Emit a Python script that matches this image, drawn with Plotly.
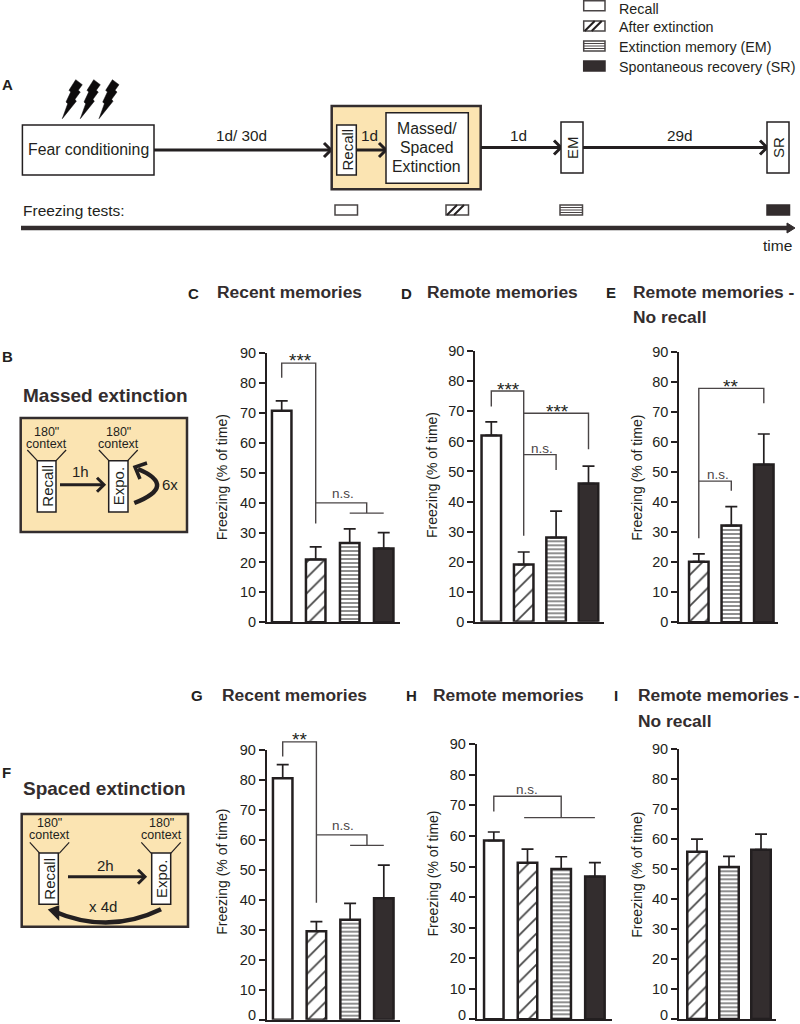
import plotly.graph_objects as go

W = 800
H = 1024
INK = "#231f20"
DARK = "#332d2e"
GREY = "#4a4546"
CREAM = "#fbe4b2"
FONT = "Liberation Sans"

# bar heights and upper error lengths
FULL = ["Recall", "After extinction", "EM", "SR"]
NO_RECALL = ["After extinction", "EM", "SR"]

c_vals = [70.7, 21.0, 26.5, 24.7]
c_errs = [3.3, 4.2, 4.7, 5.3]
d_vals = [62.0, 19.0, 28.0, 46.0]
d_errs = [4.5, 4.2, 8.8, 5.8]
e_vals = [20.2, 32.2, 52.5]
e_errs = [2.6, 6.3, 10.2]
g_vals = [80.5, 29.5, 33.3, 40.5]
g_errs = [4.5, 3.2, 5.5, 11.0]
h_vals = [58.5, 51.2, 49.2, 46.7]
h_errs = [2.8, 4.5, 4.0, 4.6]
i_vals = [55.8, 50.7, 56.5]
i_errs = [4.2, 3.6, 5.2]

y_ticks = [0, 10, 20, 30, 40, 50, 60, 70, 80, 90]

STYLE = {
    "Recall": ("white", ""),
    "After extinction": ("white", "/"),
    "EM": ("white", "-"),
    "SR": (DARK, ""),
}

fig = go.Figure()
shapes = []
notes = []


def px(x, y):
    return x / W, 1 - y / H


def line(x0, y0, x1, y1, color=INK, width=1.5):
    a, b = px(x0, y0)
    c, d = px(x1, y1)
    shapes.append(dict(type="line", xref="paper", yref="paper", x0=a, y0=b, x1=c, y1=d,
                       line=dict(color=color, width=width)))


def rect(x0, y0, x1, y1, fill="white", color=INK, width=1.5):
    a, b = px(x0, y0)
    c, d = px(x1, y1)
    shapes.append(dict(type="rect", xref="paper", yref="paper", x0=a, y0=b, x1=c, y1=d,
                       fillcolor=fill, line=dict(color=color, width=width)))


def poly(points, fill=None, color=INK, width=1.5, closed=False):
    path = ""
    for n, (x, y) in enumerate(points):
        a, b = px(x, y)
        path += f"{'M' if n == 0 else 'L'}{a:.5f},{b:.5f} "
    if closed:
        path += "Z"
    shapes.append(dict(type="path", xref="paper", yref="paper", path=path,
                       fillcolor=fill, line=dict(color=color, width=width)))


def curve(p0, ctrl, p1, width=4):
    a, b = px(*p0)
    c, d = px(*ctrl)
    e, f = px(*p1)
    shapes.append(dict(type="path", xref="paper", yref="paper",
                       path=f"M{a:.5f},{b:.5f} Q{c:.5f},{d:.5f} {e:.5f},{f:.5f}",
                       line=dict(color=INK, width=width)))


def text(x, y, s, size=14, bold=False, angle=0, anchor="center", color=INK):
    a, b = px(x, y)
    notes.append(dict(xref="paper", yref="paper", x=a, y=b, text=f"<b>{s}</b>" if bold else s,
                      showarrow=False, textangle=angle, xanchor=anchor, yanchor="middle",
                      font=dict(family=FONT, size=size, color=color), borderpad=0))


def arrow(x0, x1, y, width=3, head=7, color=INK):
    line(x0, y, x1 - 1, y, color=color, width=width)
    poly([(x1 - head, y - head), (x1, y), (x1 - head, y + head)], color=color, width=width)


def swatch(x0, y0, x1, y1, kind):
    if kind == "SR":
        rect(x0, y0, x1, y1, fill=DARK, color=DARK)
        return
    rect(x0, y0, x1, y1, color=GREY)
    h = y1 - y0
    if kind == "After extinction":
        x = x0 + 1
        while x + h < x1:
            line(x, y1, x + h, y0, color=INK, width=2)
            x += 7
    if kind == "EM":
        y = y0 + 2.5
        while y < y1 - 1:
            line(x0, y, x1, y, color=GREY, width=1)
            y += 2.5


def panel(n, cats, vals, errs, left, right, bottom, top, first, pitch):
    # n picks the axis pair; left/right/bottom/top are the axis ends in pixels
    name = "" if n == 1 else str(n)
    colors = [STYLE[c][0] for c in cats]
    marks = [STYLE[c][1] for c in cats]
    fig.add_trace(go.Bar(
        x=cats, y=vals, width=19.5 / pitch, xaxis=f"x{name}", yaxis=f"y{name}", showlegend=False,
        marker=dict(color=colors, line=dict(color=INK, width=2.5),
                    pattern=dict(shape=marks, fillmode="overlay", fgcolor="#000000", fgopacity=1,
                                 size=[{"": 8, "/": 11, "-": 4}[m] for m in marks],
                                 solidity=[{"": 0.3, "/": 0.16, "-": 0.3}[m] for m in marks])),
        error_y=dict(type="data", symmetric=False, array=errs, arrayminus=[0] * len(errs),
                     color=INK, thickness=1.7, width=6),
    ))
    fig.update_layout({
        f"xaxis{name}": dict(domain=[left / W, right / W], type="category",
                             range=[(left - first) / pitch, (right - first) / pitch],
                             showticklabels=False, ticks="", showline=True, linecolor=INK, linewidth=2,
                             showgrid=False, zeroline=False, anchor=f"y{name}"),
        f"yaxis{name}": dict(domain=[1 - bottom / H, 1 - top / H], range=[0, 90], tickvals=y_ticks,
                             ticks="outside", ticklen=6, tickwidth=2, tickcolor=INK,
                             showline=True, linecolor=INK, linewidth=2, showgrid=False, zeroline=False,
                             tickfont=dict(family=FONT, size=14.5, color=INK), anchor=f"x{name}"),
    })

    def bx(i):
        return first + i * pitch

    def by(v):
        return bottom - v * (bottom - top) / 90

    return bx, by


def bracket(bx, by, a, ya, b, yb, top):
    poly([(bx(a), by(ya)), (bx(a), by(top)), (bx(b), by(top)), (bx(b), by(yb))], color=GREY, width=1.4)


# panel A: timeline
rect(22.4, 125, 154, 175)
text(88, 149, "Fear conditioning", 15.8)
for shift in [0, 18, 36.7]:
    bolt = [(75.7, 79.7), (82.3, 84.7), (78.3, 90.3), (80.3, 92), (75, 99.3), (76.3, 101.3), (62.3, 118.7),
            (67.7, 103.7), (66, 102), (70.7, 92), (69, 90.3)]
    poly([(x + shift, y) for x, y in bolt], fill="#0d0b0c", color="#0d0b0c", width=0.5, closed=True)

arrow(154, 331, 150)
text(241, 135, "1d/ 30d", 15.3)
rect(331.7, 106, 480.7, 189.3, fill=CREAM, color=DARK, width=2.5)
rect(336.7, 125, 356.3, 175)
text(346.5, 150, "Recall", 15, angle=-90)
arrow(356.3, 386, 150)
text(369, 135, "1d", 15.3)
rect(386, 112.7, 468.3, 183.3)
text(427, 128.3, "Massed/", 15.8)
text(427, 147.5, "Spaced", 15.8)
text(427, 166.7, "Extinction", 15.8)
arrow(481, 561, 147.5)
text(518, 135, "1d", 15.3)
rect(561, 122, 583, 173)
text(572, 148, "EM", 15, angle=-90)
arrow(583, 767, 147.5)
text(680, 135, "29d", 15.3)
rect(767, 122, 789, 173)
text(778, 148, "SR", 15, angle=-90)

text(22, 210, "Freezing tests:", 15.5, anchor="left")
for x0, kind in zip([335, 446, 560, 767], FULL):
    swatch(x0, 205, x0 + 22.5, 215, kind)
line(21, 228, 788, 228, color=DARK, width=4.5)
poly([(787, 223), (795, 228), (787, 233)], fill=DARK, color=DARK, width=1, closed=True)
text(793, 245, "time", 15.5, anchor="right")

# legend
legend_labels = ["Recall", "After extinction", "Extinction memory (EM)", "Spontaneous recovery (SR)"]
for y, kind, label in zip([0.7, 21, 41, 61], FULL, legend_labels):
    swatch(583.7, y, 605, y + 10, kind)
    text(618, max(y + 5.5, 9), label, 14.3, anchor="left")

# schemes B and F
text(22, 395, "Massed extinction", 19, bold=True, anchor="left", color=DARK)
rect(20.7, 418, 187, 532, fill=CREAM, color=DARK, width=2.5)
for cx in [46.7, 118.3]:
    text(cx, 431.5, "180\"", 12.5)
    text(cx, 443.5, "context", 12.5)
    line(cx - 19.4, 450, cx - 9.4, 460.7, width=1.2)
    line(cx + 19.4, 450, cx + 9.4, 460.7, width=1.2)
rect(37.3, 460.7, 56, 512)
text(46.7, 486, "Recall", 15, angle=-90)
rect(108.7, 460.7, 128, 512)
text(118.3, 486, "Expo.", 15, angle=-90)
arrow(60, 104, 484.7, width=3)
text(80, 471.7, "1h", 15)
text(170, 484, "6x", 15)
curve((134.3, 503), (178, 486), (138, 469), width=4.5)
poly([(147, 463), (135, 467), (140, 479)], width=3.5)

text(22, 788, "Spaced extinction", 19, bold=True, anchor="left", color=DARK)
rect(21.7, 814, 188, 926.7, fill=CREAM, color=DARK, width=2.5)
for cx in [49.5, 161]:
    text(cx, 823, "180\"", 12.5)
    text(cx, 835, "context", 12.5)
    line(cx - 19.7, 842.3, cx - 9.7, 853.3, width=1.2)
    line(cx + 19.7, 842.3, cx + 9.7, 853.3, width=1.2)
rect(39, 853, 58.3, 904.3)
text(48.7, 879, "Recall", 15, angle=-90)
rect(151.7, 853, 170.7, 904.3, color=INK)
text(161, 879, "Expo.", 15, angle=-90)
arrow(68, 145, 876.7, width=3)
text(105, 865.7, "2h", 15)
text(103, 906.7, "x 4d", 15)
curve((161, 909.3), (108, 935), (53, 911), width=4.5)
poly([(58, 907), (50, 910), (58, 918)], fill=INK, width=2.5, closed=True)

# panel letters
for x, y, s in [(1, 84, "A"), (1, 356, "B"), (187, 293, "C"), (400, 293, "D"), (605, 292, "E"),
                (1, 772, "F"), (190, 695, "G"), (405, 695, "H"), (613, 695, "I")]:
    text(x, y, s, 15, bold=True, anchor="left")

# panel titles
for x, y, s in [(216, 292, "Recent memories"), (426, 292, "Remote memories"), (632, 292, "Remote memories -"),
                (632, 317, "No recall"), (221, 695, "Recent memories"), (432, 695, "Remote memories"),
                (637, 695, "Remote memories -"), (637, 721, "No recall")]:
    text(x, y, s, 17.4, bold=True, anchor="left", color=DARK)

# y axis titles
for x, y in [(221.7, 477.5), (432, 475), (636.7, 478), (221.7, 872), (432, 873.5), (636.7, 875)]:
    text(x, y, "Freezing (% of time)", 14, angle=-90)

# bar panels with their significance marks
bx, by = panel(1, FULL, c_vals, c_errs, 267, 400, 622.3, 353, 281.7, 34)
bracket(bx, by, 0, 81.7, 1, 33, 86.6)
bracket(bx, by, 1, 39.9, 2.5, 36.5, 39.9)
line(bx(2), by(36.5), bx(3), by(36.5), color=GREY, width=1.4)
text(300, 360, "***", 19)
text(343, 493, "n.s.", 13.5, color=GREY)

bx, by = panel(2, FULL, d_vals, d_errs, 475.3, 604.3, 621.7, 351.3, 491.3, 32.4)
bracket(bx, by, 0, 71.6, 1, 28.6, 76.8)
bracket(bx, by, 1, 69.4, 3, 57.4, 69.4)
bracket(bx, by, 1, 55.6, 2, 50.5, 55.6)
text(508, 389, "***", 19)
text(557, 411, "***", 19)
text(542, 448, "n.s.", 13.5, color=GREY)

bx, by = panel(3, NO_RECALL, e_vals, e_errs, 679.3, 777.7, 622.3, 352, 698.8, 32.5)
bracket(bx, by, 0, 28, 2, 72.9, 77.9)
bracket(bx, by, 0, 47, 1, 43.8, 47)
text(730, 386, "**", 19)
text(717.7, 474, "n.s.", 13.5, color=GREY)

bx, by = panel(4, FULL, g_vals, g_errs, 266.7, 400, 1019.7, 749.7, 282.7, 33.7)
bracket(bx, by, 0, 87.7, 1, 39, 92.6)
bracket(bx, by, 1, 61.6, 2.5, 58.1, 61.6)
line(bx(2), by(58.1), bx(3), by(58.1), color=GREY, width=1.4)
text(299, 739, "**", 19)
text(343, 825, "n.s.", 13.5, color=GREY)
text(256.5, 1015, "0", 14.5, anchor="right")

bx, by = panel(5, FULL, h_vals, h_errs, 476.7, 611.7, 1019.3, 744.3, 493.8, 33.7)
bracket(bx, by, 0, 68, 2, 66, 73)
line(bx(0.9), by(66), bx(3), by(66), color=GREY, width=1.4)
text(527, 789, "n.s.", 13.5, color=GREY)
text(467, 1015, "0", 14.5, anchor="right")

bx, by = panel(6, NO_RECALL, i_vals, i_errs, 679, 776, 1019, 749.3, 697, 32)
text(669, 1015, "0", 14.5, anchor="right")

fig.update_layout(
    width=W,
    height=H,
    margin=dict(l=0, r=0, t=0, b=0, autoexpand=False),
    plot_bgcolor="white",
    paper_bgcolor="white",
    showlegend=False,
    shapes=shapes,
    annotations=notes,
)

fig.write_html("out.html", config=dict(displayModeBar=False), post_script="document.body.style.margin='0';")
